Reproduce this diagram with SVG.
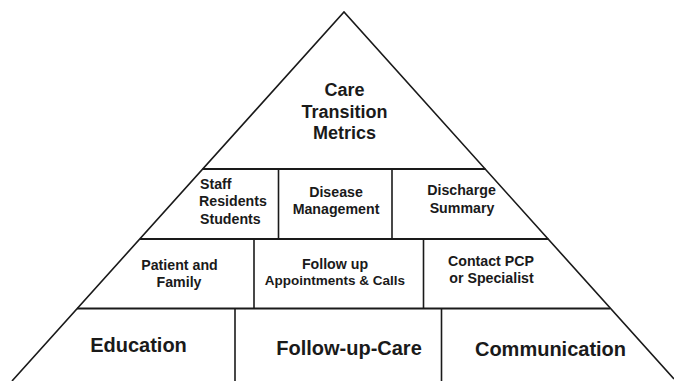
<svg xmlns="http://www.w3.org/2000/svg" width="674" height="381" viewBox="0 0 674 381">
<style>
.ln{stroke:#1a1a1a;stroke-width:1.6;fill:none;stroke-linecap:butt}
.hl{stroke:#1a1a1a;stroke-width:2;fill:none}
text{font-family:"Liberation Sans",Arial,sans-serif;font-weight:bold;fill:#1a1a1a;text-anchor:middle}
.t1{font-size:18px}
.t2{font-size:14.2px}
.t3{font-size:20px}
.l{text-anchor:start}
</style>
<rect width="674" height="381" fill="#ffffff"/>
<g id="frame">
<path class="ln" d="M12,381 L344,12 L674,379"/>
<line class="hl" x1="202.5" y1="169" x2="485.5" y2="169"/>
<line class="hl" x1="140" y1="239" x2="548.5" y2="239"/>
<line class="hl" x1="77" y1="308.5" x2="610" y2="308.5"/>
<line class="ln" x1="278.5" y1="169" x2="278.5" y2="239"/>
<line class="ln" x1="392" y1="169" x2="392" y2="239"/>
<line class="ln" x1="254" y1="239" x2="254" y2="308.5"/>
<line class="ln" x1="423.5" y1="239" x2="423.5" y2="308.5"/>
<line class="ln" x1="235" y1="308.5" x2="235" y2="381"/>
<line class="ln" x1="441.5" y1="308.5" x2="441.5" y2="381"/>
</g>
<g id="metrics">
<text class="t1" x="344.5" y="96">Care</text>
<text class="t1" x="344.5" y="118">Transition</text>
<text class="t1" x="344.5" y="139">Metrics</text>
</g>
<g id="staff">
<text class="t2 l" x="200" y="188.5">Staff</text>
<text class="t2 l" x="199" y="206">Residents</text>
<text class="t2 l" x="200" y="223.5">Students</text>
</g>
<g id="disease">
<text class="t2" x="336" y="197">Disease</text>
<text class="t2" x="336" y="213.5">Management</text>
</g>
<g id="discharge">
<text class="t2" x="461.5" y="195">Discharge</text>
<text class="t2" x="462" y="212.5">Summary</text>
</g>
<g id="patient">
<text class="t2" x="179.5" y="269.5">Patient and</text>
<text class="t2" x="179" y="286.5">Family</text>
</g>
<g id="followup">
<text class="t2" x="335" y="268.5">Follow up</text>
<text class="t2" x="335" y="285" style="font-size:13.5px">Appointments &amp; Calls</text>
</g>
<g id="contact">
<text class="t2" x="491" y="266">Contact PCP</text>
<text class="t2" x="491.5" y="283">or Specialist</text>
</g>
<g id="education">
<text class="t3" x="138.5" y="352">Education</text>
</g>
<g id="followupcare">
<text class="t3" x="349" y="355">Follow-up-Care</text>
</g>
<g id="communication">
<text class="t3" x="550.5" y="356">Communication</text>
</g>
</svg>
